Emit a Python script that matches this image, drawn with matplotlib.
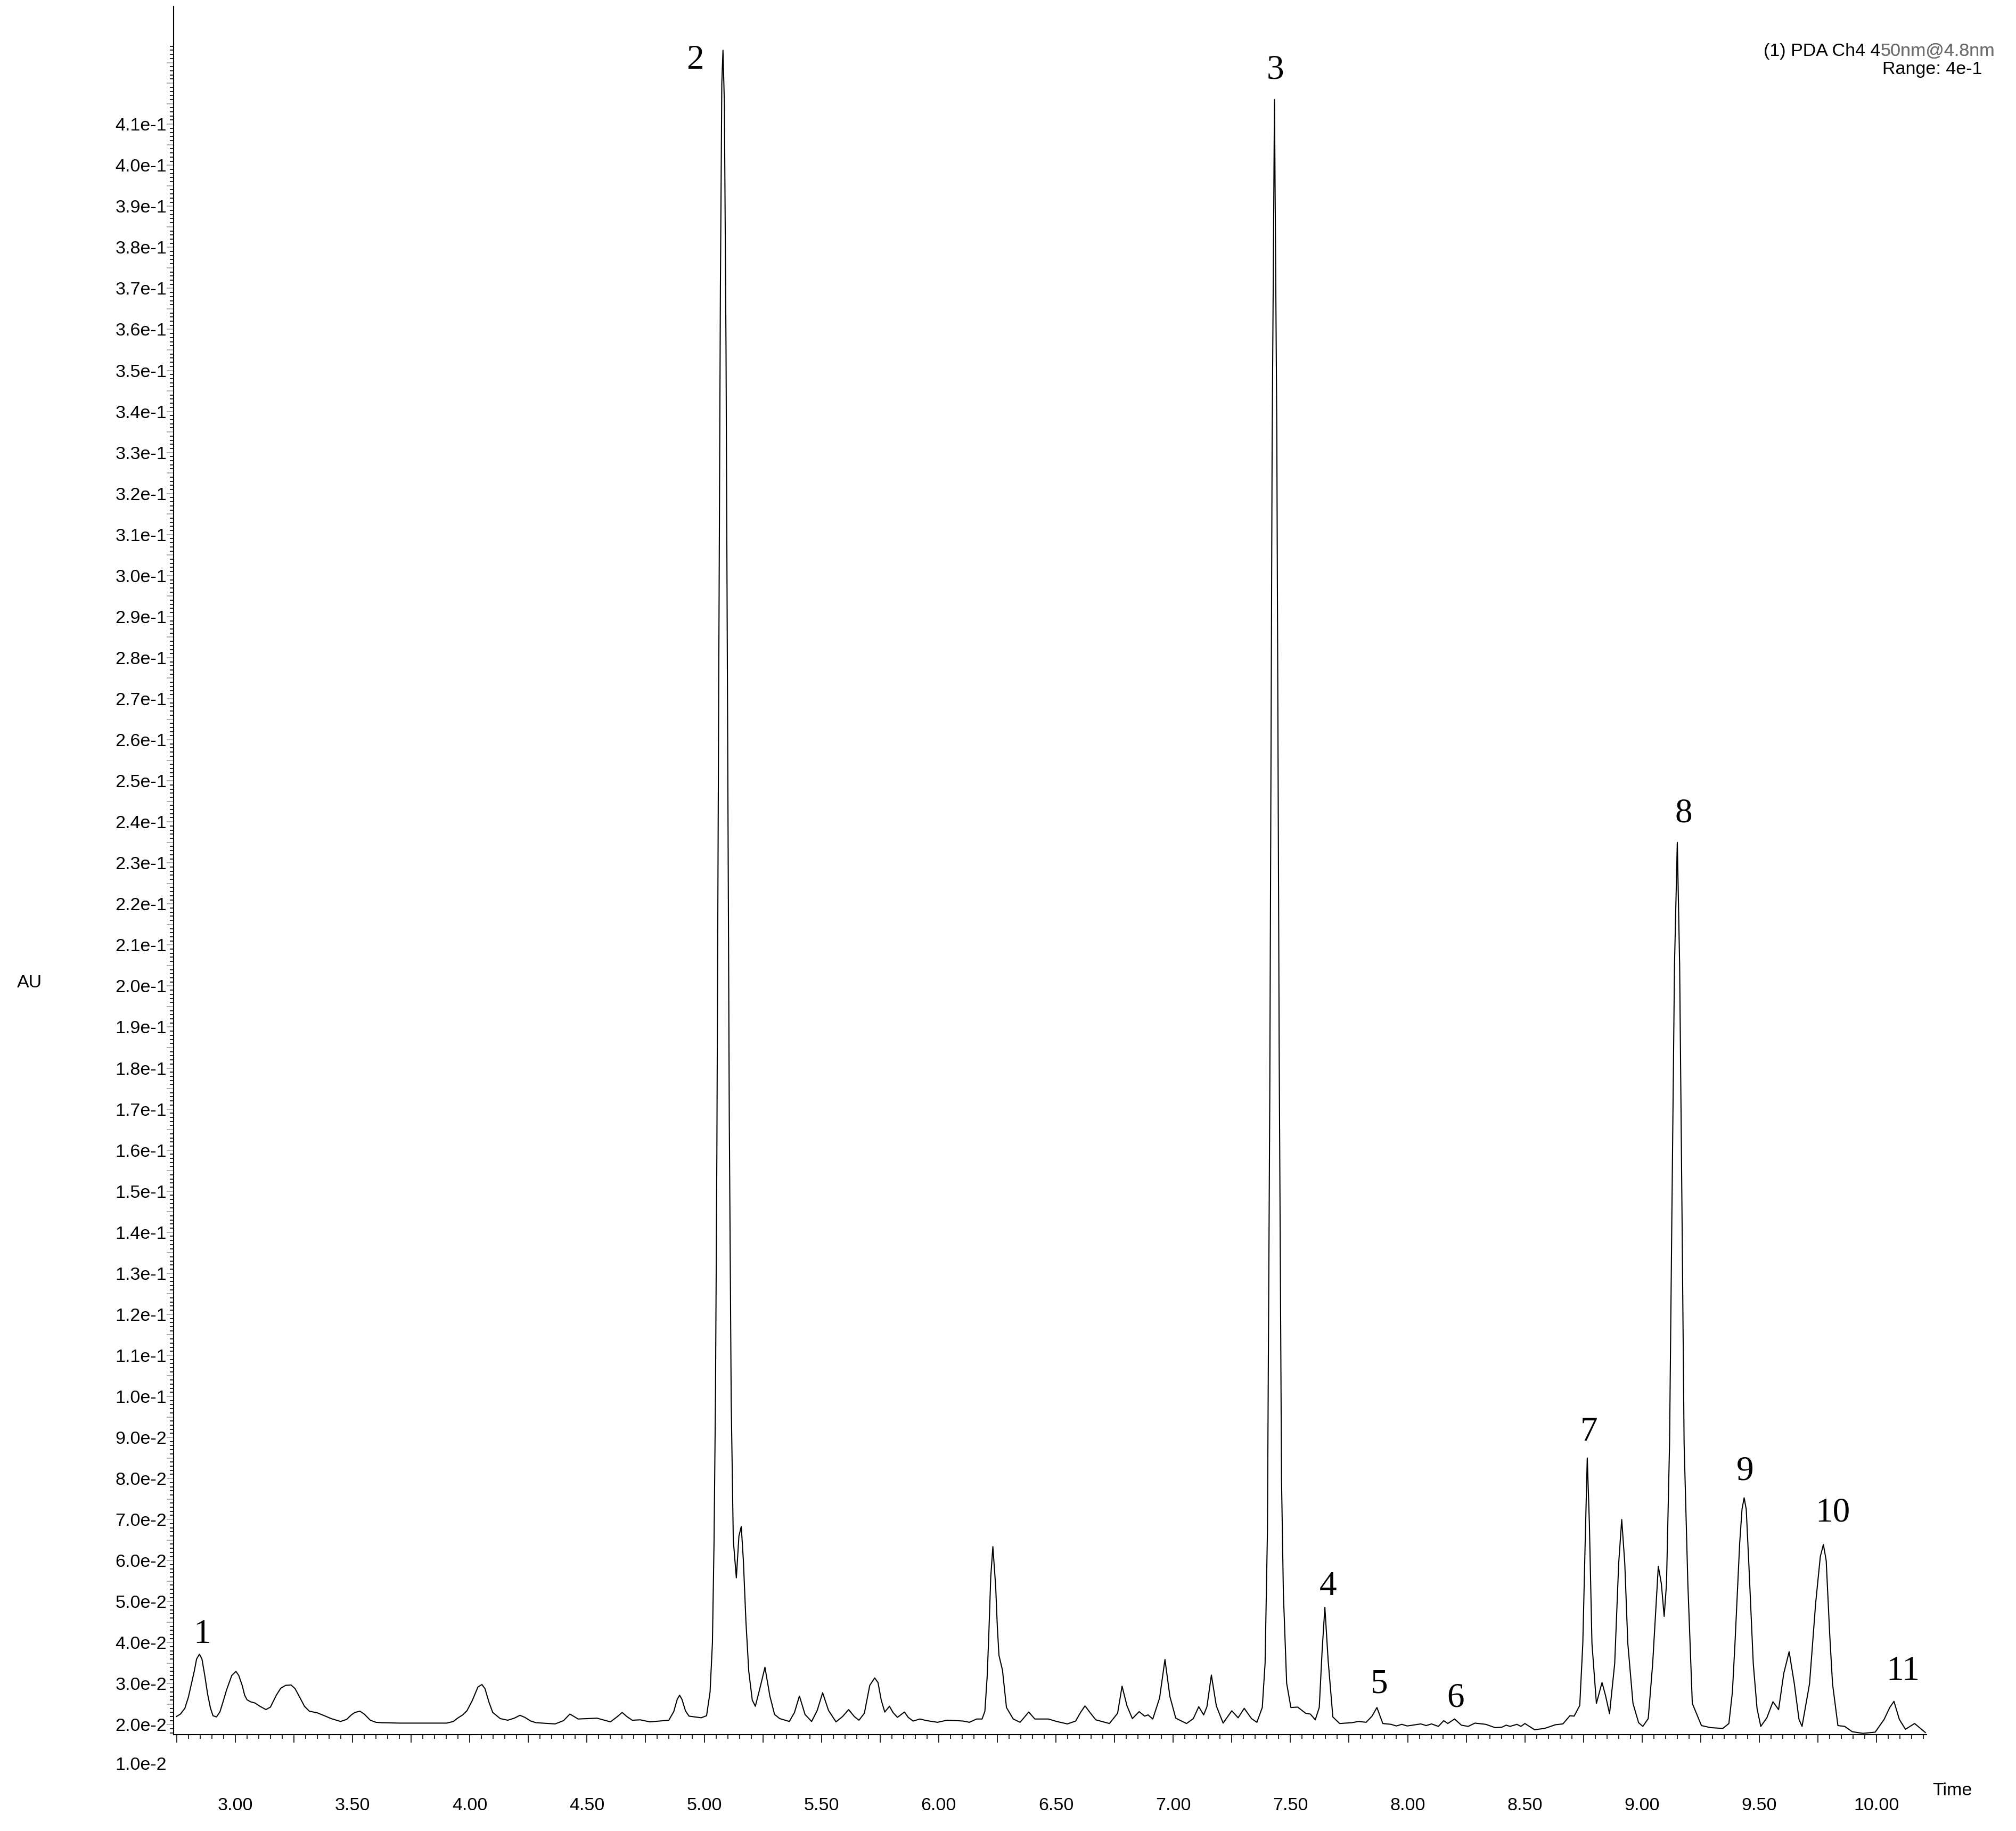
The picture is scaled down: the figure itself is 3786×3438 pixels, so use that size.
"""
PDA chromatogram at 450 nm, peaks 1-11 labelled.

Run:
    python plot.py
Output:
    out.png
"""

import matplotlib

matplotlib.use("Agg")
import matplotlib.pyplot as plt
from matplotlib.ticker import FixedLocator, MultipleLocator

plt.rcParams["font.family"] = ["Liberation Sans", "DejaVu Sans"]

# retention time (min) and absorbance (AU)
rt_min = [
    2.749, 2.766, 2.785, 2.800, 2.815, 2.825, 2.835, 2.847, 2.858, 2.870,
    2.882, 2.894, 2.905, 2.920, 2.935, 2.950, 2.963, 2.985, 3.003, 3.015,
    3.030, 3.040, 3.050, 3.065, 3.084, 3.105, 3.131, 3.150, 3.175, 3.194,
    3.215, 3.238, 3.255, 3.275, 3.295, 3.316, 3.350, 3.380, 3.409, 3.449,
    3.475, 3.495, 3.510, 3.532, 3.550, 3.576, 3.600, 3.623, 3.700, 3.817,
    3.902, 3.930, 3.948, 3.970, 3.988, 4.010, 4.035, 4.052, 4.065, 4.082,
    4.098, 4.130, 4.162, 4.190, 4.214, 4.235, 4.260, 4.283, 4.364, 4.400,
    4.427, 4.445, 4.462, 4.543, 4.600, 4.630, 4.650, 4.670, 4.693, 4.727,
    4.768, 4.849, 4.870, 4.885, 4.895, 4.905, 4.920, 4.935, 4.987, 5.010,
    5.025, 5.035, 5.042, 5.048, 5.054, 5.062, 5.069, 5.075, 5.080, 5.086,
    5.093, 5.100, 5.107, 5.115, 5.124, 5.137, 5.148, 5.158, 5.167, 5.178,
    5.190, 5.205, 5.218, 5.238, 5.259, 5.280, 5.300, 5.322, 5.363, 5.385,
    5.406, 5.430, 5.458, 5.482, 5.505, 5.530, 5.562, 5.590, 5.616, 5.640,
    5.660, 5.683, 5.706, 5.727, 5.741, 5.755, 5.770, 5.790, 5.805, 5.824,
    5.854, 5.870, 5.891, 5.920, 5.949, 5.995, 6.035, 6.076, 6.104, 6.131,
    6.162, 6.185, 6.197, 6.207, 6.214, 6.222, 6.231, 6.243, 6.250, 6.257,
    6.272, 6.280, 6.289, 6.318, 6.347, 6.365, 6.384, 6.410, 6.468, 6.503,
    6.549, 6.584, 6.605, 6.624, 6.645, 6.670, 6.728, 6.763, 6.782, 6.803,
    6.826, 6.855, 6.878, 6.893, 6.913, 6.942, 6.965, 6.986, 7.011, 7.057,
    7.086, 7.109, 7.130, 7.144, 7.163, 7.184, 7.213, 7.250, 7.277, 7.303,
    7.334, 7.357, 7.380, 7.392, 7.402, 7.412, 7.422, 7.432, 7.442, 7.452,
    7.462, 7.470, 7.484, 7.502, 7.531, 7.565, 7.585, 7.606, 7.623, 7.635,
    7.647, 7.661, 7.681, 7.710, 7.762, 7.790, 7.823, 7.848, 7.869, 7.894,
    7.929, 7.952, 7.975, 7.998, 8.056, 8.079, 8.102, 8.131, 8.154, 8.171,
    8.200, 8.229, 8.258, 8.287, 8.333, 8.373, 8.402, 8.420, 8.437, 8.466,
    8.483, 8.500, 8.541, 8.584, 8.630, 8.662, 8.692, 8.710, 8.734, 8.747,
    8.757, 8.766, 8.775, 8.786, 8.805, 8.829, 8.844, 8.861, 8.883, 8.900,
    8.913, 8.926, 8.939, 8.961, 8.985, 9.003, 9.026, 9.045, 9.069, 9.082,
    9.094, 9.104, 9.117, 9.127, 9.138, 9.150, 9.160, 9.170, 9.179, 9.195,
    9.214, 9.253, 9.292, 9.344, 9.370, 9.385, 9.396, 9.416, 9.426, 9.435,
    9.444, 9.455, 9.474, 9.490, 9.506, 9.532, 9.558, 9.582, 9.604, 9.627,
    9.649, 9.669, 9.682, 9.714, 9.740, 9.760, 9.773, 9.785, 9.800, 9.812,
    9.835, 9.864, 9.896, 9.942, 9.994, 10.032, 10.056, 10.074, 10.097, 10.123,
    10.162, 10.208,
]
au = [
    0.0220, 0.0226, 0.0240, 0.0267, 0.0305, 0.0330, 0.0360, 0.0372, 0.0360, 0.0320,
    0.0275, 0.0241, 0.0222, 0.0219, 0.0232, 0.0260, 0.0285, 0.0320, 0.0330, 0.0320,
    0.0295, 0.0272, 0.0261, 0.0256, 0.0253, 0.0245, 0.0237, 0.0243, 0.0272, 0.0289,
    0.0296, 0.0297, 0.0288, 0.0267, 0.0245, 0.0233, 0.0229, 0.0222, 0.0215, 0.0208,
    0.0213, 0.0224, 0.0230, 0.0233, 0.0226, 0.0211, 0.0206, 0.0205, 0.0204, 0.0204,
    0.0204, 0.0208, 0.0216, 0.0224, 0.0234, 0.0258, 0.0292, 0.0298, 0.0288, 0.0255,
    0.0230, 0.0215, 0.0211, 0.0216, 0.0223, 0.0218, 0.0209, 0.0205, 0.0202, 0.0210,
    0.0226, 0.0220, 0.0214, 0.0216, 0.0207, 0.0220, 0.0230, 0.0220, 0.0211, 0.0212,
    0.0207, 0.0211, 0.0232, 0.0262, 0.0272, 0.0262, 0.0234, 0.0221, 0.0217, 0.0222,
    0.0280, 0.0400, 0.0650, 0.1000, 0.1600, 0.2750, 0.3700, 0.4200, 0.4280, 0.4150,
    0.3550, 0.2620, 0.1670, 0.0990, 0.0650, 0.0558, 0.0660, 0.0683, 0.0600, 0.0450,
    0.0330, 0.0260, 0.0245, 0.0290, 0.0340, 0.0270, 0.0225, 0.0215, 0.0208, 0.0230,
    0.0270, 0.0225, 0.0208, 0.0235, 0.0278, 0.0235, 0.0207, 0.0220, 0.0237, 0.0220,
    0.0211, 0.0228, 0.0296, 0.0314, 0.0303, 0.0260, 0.0231, 0.0245, 0.0230, 0.0218,
    0.0231, 0.0218, 0.0209, 0.0214, 0.0210, 0.0206, 0.0211, 0.0210, 0.0209, 0.0206,
    0.0214, 0.0214, 0.0233, 0.0320, 0.0424, 0.0560, 0.0634, 0.0537, 0.0440, 0.0369,
    0.0333, 0.0290, 0.0242, 0.0214, 0.0206, 0.0218, 0.0231, 0.0214, 0.0214, 0.0208,
    0.0202, 0.0209, 0.0230, 0.0246, 0.0230, 0.0212, 0.0203, 0.0228, 0.0294, 0.0246,
    0.0215, 0.0232, 0.0221, 0.0224, 0.0214, 0.0265, 0.0359, 0.0269, 0.0216, 0.0203,
    0.0215, 0.0244, 0.0224, 0.0244, 0.0321, 0.0246, 0.0204, 0.0234, 0.0217, 0.0240,
    0.0215, 0.0206, 0.0242, 0.0350, 0.0670, 0.1730, 0.3320, 0.4160, 0.3350, 0.1850,
    0.0800, 0.0520, 0.0301, 0.0242, 0.0243, 0.0228, 0.0226, 0.0212, 0.0242, 0.0378,
    0.0486, 0.0356, 0.0219, 0.0203, 0.0205, 0.0208, 0.0206, 0.0221, 0.0242, 0.0203,
    0.0201, 0.0197, 0.0201, 0.0197, 0.0202, 0.0198, 0.0202, 0.0196, 0.0210, 0.0203,
    0.0214, 0.0199, 0.0196, 0.0204, 0.0201, 0.0193, 0.0194, 0.0199, 0.0196, 0.0201,
    0.0196, 0.0203, 0.0188, 0.0191, 0.0200, 0.0202, 0.0222, 0.0221, 0.0247, 0.0398,
    0.0642, 0.0850, 0.0691, 0.0398, 0.0252, 0.0303, 0.0271, 0.0227, 0.0349, 0.0593,
    0.0700, 0.0593, 0.0398, 0.0252, 0.0205, 0.0196, 0.0215, 0.0349, 0.0586, 0.0544,
    0.0464, 0.0544, 0.0886, 0.1450, 0.2050, 0.2350, 0.2050, 0.1450, 0.0886, 0.0544,
    0.0252, 0.0198, 0.0193, 0.0191, 0.0203, 0.0280, 0.0398, 0.0642, 0.0725, 0.0753,
    0.0725, 0.0593, 0.0349, 0.0240, 0.0196, 0.0217, 0.0256, 0.0237, 0.0325, 0.0378,
    0.0300, 0.0213, 0.0196, 0.0300, 0.0496, 0.0610, 0.0639, 0.0600, 0.0420, 0.0300,
    0.0198, 0.0196, 0.0183, 0.0179, 0.0182, 0.0213, 0.0242, 0.0257, 0.0213, 0.0189,
    0.0203, 0.0181,
]

# peak numbers and where their labels sit (rt, AU)
peak_ids = ["1", "2", "3", "4", "5", "6", "7", "8", "9", "10", "11"]
label_rt = [2.858, 4.962, 7.435, 7.660, 7.878, 8.205, 8.773, 9.176, 9.440, 9.812, 10.112]
label_au = [0.0420, 0.4256, 0.4231, 0.0537, 0.0298, 0.0265, 0.0913, 0.2420, 0.0818, 0.0716, 0.0330]

# channel header; the export draws the tail of the first line in grey
header_head = "(1) PDA Ch4 4"
header_tail = "50nm@4.8nm"
header_range = "Range: 4e-1"

TEXT_SIZE = 24.5
PEAK_SIZE = 47
GREY = "#a0a0a0"


def au_label(milli: int) -> str:
    if milli < 100:
        return f"{milli / 10:.1f}e-2"
    return f"{milli / 100:.1f}e-1"


def main() -> None:
    fig = plt.figure(figsize=(37.86, 34.38), dpi=100)
    ax = fig.add_axes([0.08611, 0.05265, 0.86952, 0.94386])

    ax.plot(rt_min, au, color="black", linewidth=1.5, solid_joinstyle="round")
    ax.set_xlim(2.737, 10.213)
    ax.set_ylim(0.0176, 0.4387)

    for side in ("top", "right"):
        ax.spines[side].set_visible(False)
    for side in ("left", "bottom"):
        ax.spines[side].set_linewidth(1.5)

    # x axis: long ticks every 0.25 min, labels every 0.5 min, short every 0.05
    quarters = list(range(11, 41))
    x_major = [q / 4 for q in quarters]
    x_labels = [f"{q / 4:.2f}" if q % 2 == 0 else "" for q in quarters]
    ax.set_xticks(x_major)
    ax.set_xticklabels(x_labels)
    ax.xaxis.set_minor_locator(MultipleLocator(0.05))
    ax.tick_params(axis="x", which="major", length=10.8, width=1.2,
                   direction="out", pad=74, labelsize=TEXT_SIZE)
    ax.tick_params(axis="x", which="minor", length=5.8, width=1.2, direction="out")
    for tick, label in zip(ax.xaxis.get_major_ticks(), x_labels):
        if label:
            tick.tick1line.set_color(GREY)

    # y axis: long ticks every 0.005, labels every 0.01, short every 0.001
    y_milli = list(range(20, 426, 5))
    y_labels = [au_label(m) if m % 10 == 0 and m <= 410 else "" for m in y_milli]
    ax.set_yticks([m / 1000 for m in y_milli])
    ax.set_yticklabels(y_labels)
    ax.yaxis.set_minor_locator(FixedLocator([m / 1000 for m in range(18, 430)]))
    ax.tick_params(axis="y", which="major", length=9.4, width=1.2, color=GREY,
                   direction="out", pad=0, labelsize=TEXT_SIZE)
    ax.tick_params(axis="y", which="minor", length=5.0, width=1.2, direction="out")

    # the 1.0e-2 label sits below the time axis in the original export
    ax.annotate("1.0e-2", xy=(0, 0.0102), xycoords=ax.get_yaxis_transform(),
                xytext=(-13, 0), textcoords="offset pixels", ha="right",
                va="center", fontsize=TEXT_SIZE, annotation_clip=False)

    for pid, x, y in zip(peak_ids, label_rt, label_au):
        ax.text(x, y, pid, ha="center", va="center", fontsize=PEAK_SIZE,
                family="Liberation Serif", clip_on=False)

    fig.text(0.01453, 0.4631, "AU", ha="center", va="center", fontsize=TEXT_SIZE)
    fig.text(0.9683, 0.0221, "Time", ha="center", va="center", fontsize=TEXT_SIZE)

    tail = fig.text(0.9894, 0.9718, header_tail, ha="right", va="center",
                    fontsize=TEXT_SIZE, color="#6e6e6e")
    fig.add_artist(tail)
    ax.annotate(header_head, xy=(0, 0), xycoords=tail, ha="right", va="bottom",
                fontsize=TEXT_SIZE, annotation_clip=False)
    fig.text(0.9831, 0.9619, header_range, ha="right", va="center", fontsize=TEXT_SIZE)

    fig.savefig("out.png", dpi=100, facecolor="white")
    plt.close(fig)


if __name__ == "__main__":
    main()
